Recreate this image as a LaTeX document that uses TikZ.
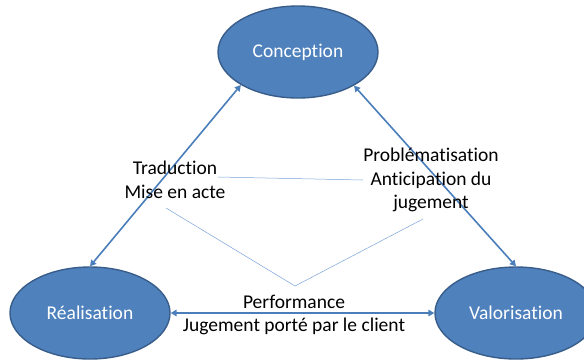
\documentclass[tikz,border=0pt]{standalone}
\usepackage{fontspec}
\setmainfont{Carlito}[Ligatures={NoCommon}]
\usetikzlibrary{shapes.geometric,arrows.meta}
\definecolor{nodefill}{HTML}{4F81BD}
\definecolor{nodeborder}{HTML}{385D8A}
\definecolor{arrowblue}{HTML}{4A7EBB}
\definecolor{thinblue}{HTML}{7BA3D6}
\tikzset{
  phase/.style={ellipse, fill=nodefill, draw=nodeborder, line width=1.4pt,
    minimum width=160pt, minimum height=92pt, inner sep=0pt,
    text=white, font=\fontsize{19.5}{22}\selectfont},
  link/.style={draw=arrowblue, line width=1.6pt,
    {Triangle[length=6pt,width=6.5pt]}-{Triangle[length=6pt,width=6.5pt]}},
  lbl/.style={align=center, font=\fontsize{19.5}{23.5}\selectfont, inner sep=0pt, text=black},
  thin/.style={draw=thinblue, line width=0.5pt}
}
\begin{document}
\begin{tikzpicture}[x=1pt,y=-1pt]
\useasboundingbox (0,0) rectangle (584,360);
\node[phase] (con) at (298,52) {Conception};
\node[phase] (rea) at (90,313) {Réalisation};
\node[phase, minimum width=162pt] (val) at (516,313) {Valorisation};

\draw[link] (con.210.8) -- (rea.north);
\draw[link] (con.329.6) -- (val.north);
\draw[link] (rea.east) -- (val.west);

\node[lbl] (trad) at (175,180) {Traduction\\Mise en acte};
\node[lbl] (prob) at (431,180) {Problématisation\\Anticipation du\\jugement};
\node[lbl] (perf) at (294,315) {Performance\\Jugement porté par le client};

\coordinate (h1) at (218,177);
\coordinate (h2) at (363,180);
\coordinate (v1) at (166,208);
\coordinate (v2) at (295,286);
\coordinate (v3) at (423,219);
\draw[thin] (h1) -- (h2);
\draw[thin] (v1) -- (v2) -- (v3);
\end{tikzpicture}
\end{document}
